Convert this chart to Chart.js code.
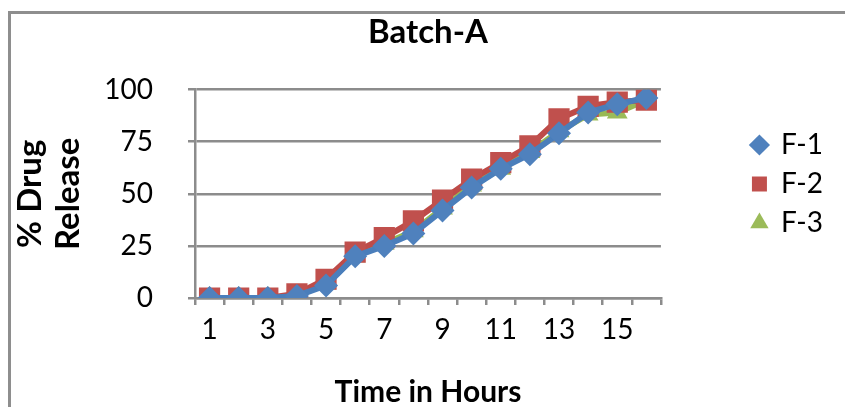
<!DOCTYPE html>
<html>
<head>
<meta charset="utf-8">
<title>Batch-A</title>
<script src="https://cdn.jsdelivr.net/npm/chart.js@4.4.1/dist/chart.umd.min.js"></script>
<style>
    html, body {
        margin: 0;
        padding: 0;
        background: #ffffff;
        overflow: hidden;
    }
    .chart-wrap {
        position: relative;
        width: 845px;
        height: 407px;
    }
    .frame {
        position: absolute;
        left: 8px;
        top: 11px;
        width: 900px;
        height: 500px;
        border-left: 3px solid #8e8e8e;
        border-top: 3px solid #8e8e8e;
    }
    #releaseChart {
        position: absolute;
        left: 0;
        top: 0;
    }
</style>
</head>
<body>
<div class="chart-wrap">
    <div class="frame"></div>
    <canvas id="releaseChart" width="845" height="407"></canvas>
</div>
<script>
var hours = ['1', '2', '3', '4', '5', '6', '7', '8', '9', '10', '11', '12', '13', '14', '15', '16'];
var f1 = [0, 0, 0, 1, 6, 20, 25, 31, 42, 53, 62, 69, 79, 89, 93, 96];
var f2 = [0, 0, 0, 2, 9, 22, 29, 37, 47, 57, 65, 73, 86, 92, 94, 95];
var f3 = [0, 0, 0, 1, 7, 20, 26, 32, 43, 54, 62, 70, 80, 88, 89, 95];
var yTicks = [0, 25, 50, 75, 100];

var gridColor = '#8c8c8c';
var fontFamily = 'Lato, "Open Sans", sans-serif';

// moves the legend block over to the right and down beside the plot
var legendShift = {
    id: 'legendShift',
    afterLayout: function(chart) {
        chart.legend.left += 80;
        chart.legend.right += 80;
        chart.legend.top += 120;
    }
};

var ctx = document.getElementById('releaseChart').getContext('2d');

new Chart(ctx, {
    type: 'line',
    data: {
        labels: hours,
        datasets: [{
            label: 'F-1',
            data: f1,
            borderColor: '#4a7ebb',
            backgroundColor: '#4f81bd',
            borderWidth: 6,
            pointStyle: 'rectRot',
            pointRadius: 12,
            pointBorderWidth: 0
        }, {
            label: 'F-2',
            data: f2,
            borderColor: '#be4b48',
            backgroundColor: '#c0504d',
            borderWidth: 6,
            pointStyle: 'rect',
            pointRadius: 15,
            pointBorderWidth: 0
        }, {
            label: 'F-3',
            data: f3,
            borderColor: '#98b954',
            backgroundColor: '#9bbb59',
            borderWidth: 6,
            pointStyle: 'triangle',
            pointRadius: 12,
            pointBorderWidth: 0
        }]
    },
    options: {
        responsive: false,
        animation: false,
        layout: {
            padding: { left: 10, right: 92, top: 0, bottom: 0 }
        },
        plugins: {
            title: {
                display: true,
                fullSize: false,
                text: 'Batch-A',
                color: '#000000',
                font: { family: fontFamily, size: 33, weight: 'bold' },
                padding: { top: 13, bottom: 37 }
            },
            legend: {
                position: 'right',
                align: 'start',
                labels: {
                    usePointStyle: true,
                    boxWidth: 15,
                    boxHeight: 15,
                    padding: 11,
                    color: '#000000',
                    font: { family: fontFamily, size: 28 }
                }
            },
            tooltip: { enabled: false }
        },
        scales: {
            x: {
                offset: true,
                afterFit: function(scale) {
                    scale.height = 109;
                },
                grid: {
                    offset: true,
                    drawOnChartArea: false,
                    drawTicks: true,
                    tickLength: 7,
                    color: gridColor,
                    lineWidth: 2.5
                },
                border: { color: gridColor, width: 2.5 },
                ticks: {
                    autoSkip: false,
                    maxRotation: 0,
                    padding: 8,
                    color: '#000000',
                    font: { family: fontFamily, size: 28 },
                    callback: function(value, index) {
                        return index % 2 === 0 ? hours[index] : '';
                    }
                },
                title: {
                    display: true,
                    text: 'Time in Hours',
                    color: '#000000',
                    font: { family: fontFamily, size: 30, weight: 'bold', lineHeight: 1 },
                    padding: { top: 0, bottom: 0 }
                }
            },
            y: {
                min: yTicks[0],
                max: yTicks[yTicks.length - 1],
                afterFit: function(scale) {
                    scale.width = 185;
                },
                afterBuildTicks: function(scale) {
                    scale.ticks = yTicks.map(function(v) { return { value: v }; });
                },
                grid: {
                    color: gridColor,
                    lineWidth: 2.5,
                    tickLength: 7
                },
                border: { color: gridColor, width: 2.5 },
                ticks: {
                    padding: 35,
                    color: '#000000',
                    font: { family: fontFamily, size: 28 }
                },
                title: {
                    display: true,
                    text: ['% Drug', 'Release'],
                    color: '#000000',
                    font: { family: fontFamily, size: 33, weight: 'bold', lineHeight: 1.15 },
                    padding: { top: 1, bottom: 0 }
                }
            }
        }
    },
    plugins: [legendShift]
});
</script>
</body>
</html>
